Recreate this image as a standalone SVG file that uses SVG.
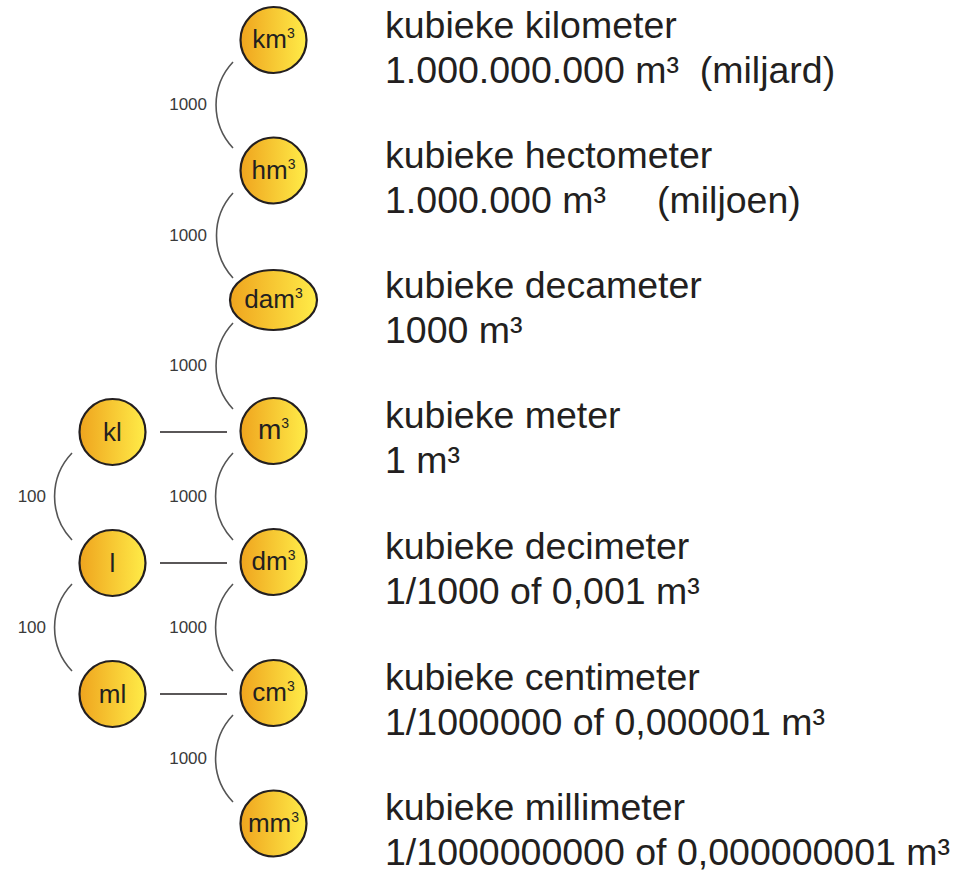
<svg xmlns="http://www.w3.org/2000/svg" width="956" height="872" viewBox="0 0 956 872">
<defs>
<linearGradient id="g" x1="0" y1="0" x2="1" y2="0">
<stop offset="0" stop-color="#EFA41E"/>
<stop offset="1" stop-color="#FFEC48"/>
</linearGradient>
<style>
.n{fill:url(#g);stroke:#231F20;stroke-width:2.2}
.nl{font-family:"Liberation Sans",Arial,sans-serif;font-size:26px;fill:#231F20;text-anchor:middle}
.sup{font-size:14px}
.arc{fill:none;stroke:#555;stroke-width:1.6}
.hl{stroke:#231F20;stroke-width:1.6}
.fl{font-family:"Liberation Sans",Arial,sans-serif;font-size:17px;fill:#3a3a3a;text-anchor:end}
.t{font-family:"Liberation Sans",Arial,sans-serif;font-size:37.5px;fill:#231F20}
</style>
</defs>
<rect width="956" height="872" fill="#fff"/>
<g id="connectors">
<path class="arc" d="M233,62 A63,63 0 0 0 233,148"/>
<path class="arc" d="M233,193 A63,63 0 0 0 233,278"/>
<path class="arc" d="M233,323 A63,63 0 0 0 233,409"/>
<path class="arc" d="M233,453 A63,63 0 0 0 233,540"/>
<path class="arc" d="M233,584 A63,63 0 0 0 233,671"/>
<path class="arc" d="M233,715 A63,63 0 0 0 233,802"/>
<path class="arc" d="M72,453 A63,63 0 0 0 72,540"/>
<path class="arc" d="M72,584 A63,63 0 0 0 72,671"/>
<line class="hl" x1="160" y1="432" x2="227" y2="432"/>
<line class="hl" x1="160" y1="563" x2="227" y2="563"/>
<line class="hl" x1="160" y1="694" x2="227" y2="694"/>
<text class="fl" x="207" y="110">1000</text>
<text class="fl" x="207" y="241">1000</text>
<text class="fl" x="207" y="371">1000</text>
<text class="fl" x="207" y="502">1000</text>
<text class="fl" x="207" y="633">1000</text>
<text class="fl" x="207" y="764">1000</text>
<text class="fl" x="46" y="502">100</text>
<text class="fl" x="46" y="633">100</text>
</g>
<g id="km3"><circle class="n" cx="273.5" cy="40" r="33"/><text class="nl" x="273.5" y="48">km<tspan class="sup" dy="-10">3</tspan></text>
<text class="t" x="385" y="38">kubieke kilometer</text>
<text class="t" x="385" y="83" xml:space="preserve">1.000.000.000 m³  (miljard)</text></g>
<g id="hm3"><circle class="n" cx="273.5" cy="170.5" r="33"/><text class="nl" x="273.5" y="178.5">hm<tspan class="sup" dy="-10">3</tspan></text>
<text class="t" x="385" y="168">kubieke hectometer</text>
<text class="t" x="385" y="213">1.000.000 m³<tspan x="657">(miljoen)</tspan></text></g>
<g id="dam3"><ellipse class="n" cx="273.5" cy="300" rx="43.5" ry="30"/><text class="nl" x="273.5" y="308">dam<tspan class="sup" dy="-10">3</tspan></text>
<text class="t" x="385" y="298">kubieke decameter</text>
<text class="t" x="385" y="343">1000 m³</text></g>
<g id="m3"><circle class="n" cx="273.5" cy="431" r="33"/><text class="nl" x="273.5" y="439" style="font-size:28px">m<tspan class="sup" dy="-11">3</tspan></text>
<text class="t" x="385" y="428">kubieke meter</text>
<text class="t" x="385" y="473">1 m³</text></g>
<g id="dm3"><circle class="n" cx="273.5" cy="562" r="33"/><text class="nl" x="273.5" y="570">dm<tspan class="sup" dy="-10">3</tspan></text>
<text class="t" x="385" y="559">kubieke decimeter</text>
<text class="t" x="385" y="604">1/1000 of 0,001 m³</text></g>
<g id="cm3"><circle class="n" cx="273.5" cy="693" r="33"/><text class="nl" x="273.5" y="701">cm<tspan class="sup" dy="-10">3</tspan></text>
<text class="t" x="385" y="690">kubieke centimeter</text>
<text class="t" x="385" y="735">1/1000000 of 0,000001 m³</text></g>
<g id="mm3"><circle class="n" cx="273.5" cy="823.5" r="33"/><text class="nl" x="273.5" y="832">mm<tspan class="sup" dy="-10">3</tspan></text>
<text class="t" x="385" y="820">kubieke millimeter</text>
<text class="t" x="385" y="865">1/1000000000 of 0,000000001 m³</text></g>
<g id="kl"><circle class="n" cx="112.5" cy="432" r="33"/><text class="nl" x="112.5" y="441">kl</text></g>
<g id="l"><circle class="n" cx="112.5" cy="563" r="33"/><text class="nl" x="112.5" y="572">l</text></g>
<g id="ml"><circle class="n" cx="112.5" cy="694" r="33"/><text class="nl" x="112.5" y="703">ml</text></g>
</svg>
